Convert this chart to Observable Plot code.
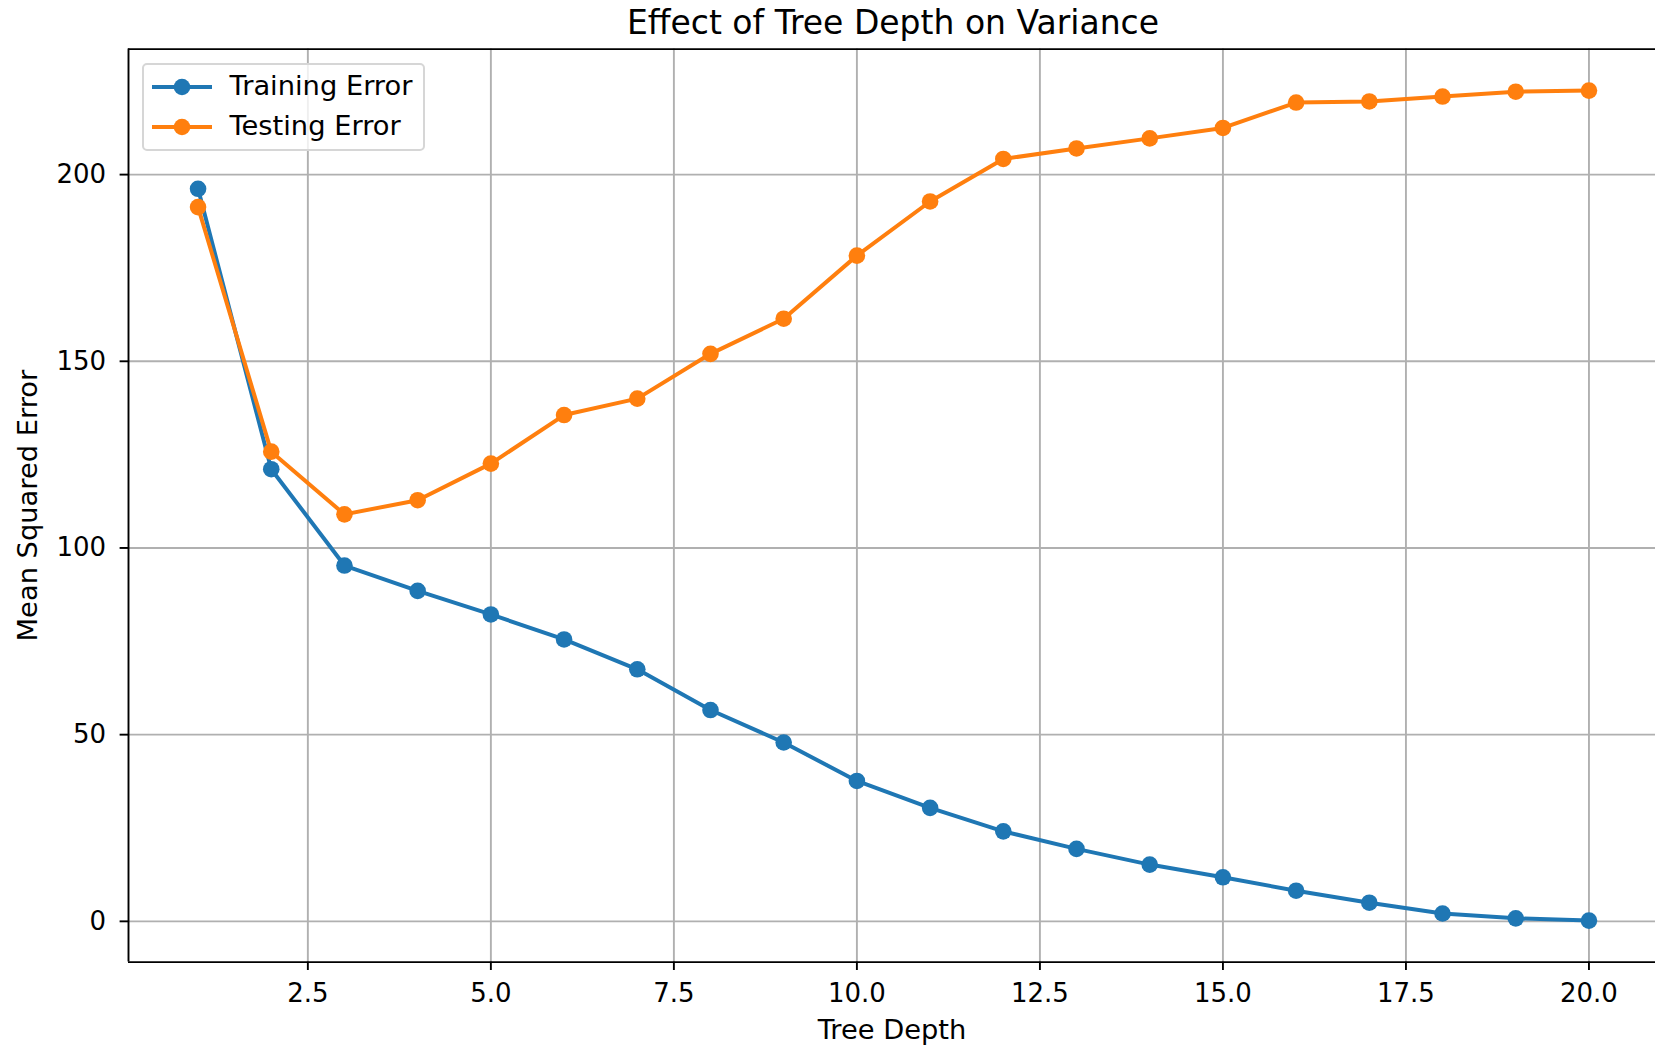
<!DOCTYPE html>
<html>
<head>
<meta charset="utf-8">
<script src="https://cdn.jsdelivr.net/npm/d3@7"></script>
<script src="https://cdn.jsdelivr.net/npm/@observablehq/plot@0.6"></script>
<style>
  html, body { margin: 0; padding: 0; background: #fff; }
  #chart { position: relative; width: 1655px; height: 1047px; font-family: "DejaVu Sans", sans-serif; }
  #chart svg { display: block; }
  .title {
    position: absolute; left: 0; width: 1786px; top: 6px;
    text-align: center; font-size: 33px; line-height: 33px; color: #000; white-space: nowrap;
  }
  .legend {
    position: absolute; left: 141.5px; top: 63px; width: 283px; height: 88px; box-sizing: border-box;
    background: rgba(255,255,255,0.8); border: 2.2px solid #d6d6d6; border-radius: 5px;
  }
  .legend .row { position: absolute; left: 0; height: 30px; }
  .legend .row svg { position: absolute; left: 6px; top: 0; }
  .legend .row span { position: absolute; left: 86px; top: 0; font-size: 27.3px; line-height: 27.3px; white-space: nowrap; color: #000; }
</style>
</head>
<body>
<div id="chart"></div>
<script>
// Decision-tree depth against mean squared error
const depth = [1, 2, 3, 4, 5, 6, 7, 8, 9, 10, 11, 12, 13, 14, 15, 16, 17, 18, 19, 20];
const trainingError = [196.2, 121.1, 95.3, 88.5, 82.2, 75.5, 67.5, 56.6, 47.9, 37.6,
                       30.4, 24.1, 19.4, 15.2, 11.8, 8.2, 5.0, 2.1, 0.8, 0.2];
const testingError = [191.3, 125.8, 109.0, 112.8, 122.6, 135.6, 140.0, 152.0, 161.4, 178.3,
                      192.8, 204.2, 207.0, 209.7, 212.5, 219.3, 219.6, 220.9, 222.2, 222.5];
const seriesNames = ["Training Error", "Testing Error"];
const seriesColors = ["#1f77b4", "#ff7f0e"];
const xTicks = [2.5, 5, 7.5, 10, 12.5, 15, 17.5, 20];
const yTicks = [0, 50, 100, 150, 200];

const training = depth.map((d, i) => ({depth: d, mse: trainingError[i]}));
const testing = depth.map((d, i) => ({depth: d, mse: testingError[i]}));

// 5% padding around the data, as in a default pyplot axes
const xPad = (d3.max(depth) - d3.min(depth)) * 0.05;
const xDomain = [d3.min(depth) - xPad, d3.max(depth) + xPad];
const allY = trainingError.concat(testingError);
const yPad = (d3.max(allY) - d3.min(allY)) * 0.05;
const yDomain = [d3.min(allY) - yPad, d3.max(allY) + yPad];

const marginLeft = 128, marginTop = 48.6, marginBottom = 85.4;
const gridStyle = {stroke: "#b0b0b0", strokeOpacity: 1, strokeWidth: 1.9};
const spine = {stroke: "#000", strokeWidth: 1.9};
const lineWidth = 4, dotRadius = 8.3;

const plot = Plot.plot({
  width: 1655,
  height: 1047,
  marginLeft, marginTop, marginBottom, marginRight: 0,
  style: {fontFamily: "DejaVu Sans", fontSize: "26px", color: "#000", background: "transparent", overflow: "visible"},
  x: {domain: xDomain, range: [marginLeft, 1658]},
  y: {domain: yDomain},
  marks: [
    Plot.gridX(xTicks, gridStyle),
    Plot.gridY(yTicks, gridStyle),
    Plot.axisX(xTicks, {
      tickFormat: d => d.toFixed(1), tickSize: 8.4, tickPadding: 13, strokeWidth: 1.9,
      label: null
    }),
    Plot.axisY(yTicks, {
      tickSize: 8.4, tickPadding: 14, strokeWidth: 1.9,
      label: null
    }),
    // axis titles
    Plot.text(["Tree Depth"], {
      frameAnchor: "bottom", lineAnchor: "bottom", dy: 77, fontSize: 27.3
    }),
    Plot.text(["Mean Squared Error"], {
      frameAnchor: "left", textAnchor: "middle", lineAnchor: "top", rotate: -90, dx: -111, fontSize: 27.3
    }),
    Plot.line(training, {x: "depth", y: "mse", stroke: seriesColors[0], strokeWidth: lineWidth}),
    Plot.dot(training, {x: "depth", y: "mse", fill: seriesColors[0], r: dotRadius}),
    Plot.line(testing, {x: "depth", y: "mse", stroke: seriesColors[1], strokeWidth: lineWidth}),
    Plot.dot(testing, {x: "depth", y: "mse", fill: seriesColors[1], r: dotRadius}),
    Plot.ruleY([yDomain[0]], spine),
    Plot.ruleY([yDomain[1]], spine),
    Plot.ruleX([xDomain[0]], spine)
  ]
});

const chart = document.getElementById("chart");
chart.appendChild(plot);

const title = document.createElement("div");
title.className = "title";
title.textContent = "Effect of Tree Depth on Variance";
chart.appendChild(title);

// Legend box in the upper-left corner of the axes
const legend = document.createElement("div");
legend.className = "legend";
seriesNames.forEach((name, i) => {
  const row = document.createElement("div");
  row.className = "row";
  row.style.top = (i === 0 ? 7 : 47) + "px";
  row.innerHTML =
    `<svg width="64" height="30"><line x1="2" x2="62" y1="15" y2="15" stroke="${seriesColors[i]}" stroke-width="${lineWidth}"/>` +
    `<circle cx="32" cy="15" r="${dotRadius}" fill="${seriesColors[i]}"/></svg><span>${name}</span>`;
  legend.appendChild(row);
});
chart.appendChild(legend);
</script>
</body>
</html>
